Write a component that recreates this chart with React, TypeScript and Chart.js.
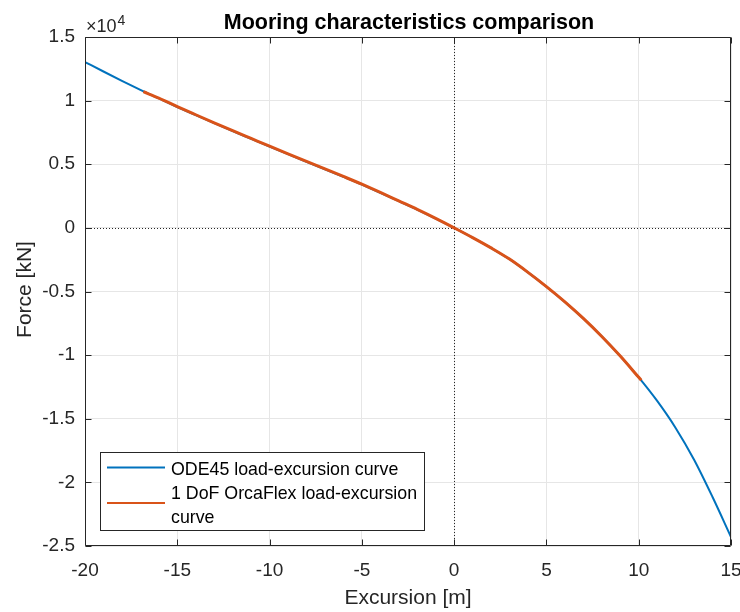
import React, { useEffect, useRef } from "react";
import { Chart, registerables } from "chart.js";

Chart.register(...registerables);

// ODE45 load-excursion curve (excursion m, force kN)
const odeX = [-20, -19, -18, -17, -16, -15, -14, -13, -12, -11, -10, -9, -8, -7, -6, -5, -4, -3, -2, -1, 0, 1, 2, 3, 4, 5, 6, 7, 8, 9, 10, 11, 12, 13, 14, 15];
const odeY = [13030, 12290, 11560, 10850, 10170, 9500, 8860, 8230, 7610, 7000, 6390, 5790, 5200, 4610, 4010, 3400, 2760, 2100, 1430, 730, 0, -770, -1580, -2460, -3500, -4620, -5820, -7120, -8540, -10080, -11750, -13600, -15720, -18220, -21150, -24290];

// 1 DoF OrcaFlex load-excursion curve
const orcaX = [-16.84, -16, -15, -14, -13, -12, -11, -10, -9, -8, -7, -6, -5, -4, -3, -2, -1, 0, 1, 2, 3, 4, 5, 6, 7, 8, 9, 10, 10.14];
const orcaY = [10700, 10200, 9530, 8890, 8260, 7640, 7030, 6420, 5820, 5230, 4640, 4040, 3430, 2790, 2120, 1450, 745, 0, -765, -1575, -2455, -3495, -4615, -5815, -7115, -8535, -10075, -11745, -11980];

const xTicks = [-20, -15, -10, -5, 0, 5, 10, 15];
const yTicks = [-25000, -20000, -15000, -10000, -5000, 0, 5000, 10000, 15000];

const seriesNames = ["ODE45 load-excursion curve", "1 DoF OrcaFlex load-excursion", "curve"];
const titleText = "Mooring characteristics comparison";
const xLabel = "Excursion [m]";
const yLabel = "Force [kN]";

const BLUE = "#0072BD";
const ORANGE = "#D95319";
const AX = "#262626";
const FONT = "'Liberation Sans', Arial, Helvetica, sans-serif";

export default function App() {
  const ref = useRef<HTMLCanvasElement | null>(null);

  useEffect(() => {
    document.body.style.margin = "0";
    const canvas = ref.current;
    if (!canvas) return;

    const decor = {
      id: "decor",
      beforeDatasetsDraw(chart: any) {
        const { ctx, chartArea: a, scales } = chart;
        const x0 = Math.round(scales.x.getPixelForValue(0)) + 0.5;
        const y0 = Math.round(scales.y.getPixelForValue(0)) + 0.5;
        ctx.save();
        ctx.strokeStyle = AX;
        ctx.lineWidth = 1;
        ctx.setLineDash([1, 2]);
        ctx.beginPath();
        ctx.moveTo(x0, a.top);
        ctx.lineTo(x0, a.bottom);
        ctx.moveTo(a.left, y0);
        ctx.lineTo(a.right, y0);
        ctx.stroke();
        ctx.restore();
      },
      afterDraw(chart: any) {
        const { ctx, chartArea: a, scales } = chart;
        ctx.save();
        // frame
        ctx.strokeStyle = AX;
        ctx.lineWidth = 1;
        ctx.setLineDash([]);
        const L = Math.round(a.left) + 0.5;
        const R = Math.round(a.right) - 0.5;
        const T = Math.round(a.top) + 0.5;
        const B = Math.round(a.bottom) - 0.5;
        ctx.beginPath();
        ctx.rect(L, T, R - L, B - T);
        ctx.stroke();
        // inward ticks
        const tl = 6;
        ctx.beginPath();
        for (const v of xTicks) {
          const px = Math.round(scales.x.getPixelForValue(v)) + 0.5;
          ctx.moveTo(px, B);
          ctx.lineTo(px, B - tl);
          ctx.moveTo(px, T);
          ctx.lineTo(px, T + tl);
        }
        for (const v of yTicks) {
          const py = Math.round(scales.y.getPixelForValue(v)) + 0.5;
          ctx.moveTo(L, py);
          ctx.lineTo(L + tl, py);
          ctx.moveTo(R, py);
          ctx.lineTo(R - tl, py);
        }
        ctx.stroke();

        // title
        ctx.fillStyle = "#000000";
        ctx.font = `bold 21.5px ${FONT}`;
        ctx.textAlign = "center";
        ctx.textBaseline = "alphabetic";
        ctx.fillText(titleText, (a.left + a.right) / 2 + 1, 29);

        // exponent
        ctx.fillStyle = AX;
        ctx.textAlign = "left";
        ctx.font = `18px ${FONT}`;
        ctx.fillText("\u00d710", 86, 32);
        const w = ctx.measureText("\u00d710").width;
        ctx.font = `14px ${FONT}`;
        ctx.fillText("4", 86 + w + 1, 25);

        // axis labels
        ctx.font = `21px ${FONT}`;
        ctx.textAlign = "center";
        ctx.fillText(xLabel, (a.left + a.right) / 2, 604);
        ctx.save();
        ctx.translate(31, (a.top + a.bottom) / 2 - 2);
        ctx.rotate(-Math.PI / 2);
        ctx.fillText(yLabel, 0, 0);
        ctx.restore();

        // legend
        const legFont = `17.8px ${FONT}`;
        ctx.font = legFont;
        const tw = Math.max(...seriesNames.map((s) => ctx.measureText(s).width));
        const bx = 100.5, by = 452.5, bh = 78;
        const bw = Math.round(171 + tw + 7 - bx);
        ctx.fillStyle = "#ffffff";
        ctx.fillRect(bx, by, bw, bh);
        ctx.strokeStyle = AX;
        ctx.lineWidth = 1;
        ctx.strokeRect(bx, by, bw, bh);
        ctx.lineWidth = 2;
        ctx.strokeStyle = BLUE;
        ctx.beginPath();
        ctx.moveTo(107, 467.5);
        ctx.lineTo(165, 467.5);
        ctx.stroke();
        ctx.strokeStyle = ORANGE;
        ctx.beginPath();
        ctx.moveTo(107, 503);
        ctx.lineTo(165, 503);
        ctx.stroke();
        ctx.fillStyle = "#000000";
        ctx.textAlign = "left";
        ctx.fillText(seriesNames[0], 171, 475);
        ctx.fillText(seriesNames[1], 171, 499.3);
        ctx.fillText(seriesNames[2], 171, 523);
        ctx.restore();
      },
    };

    const chart = new Chart(canvas, {
      type: "scatter",
      data: {
        datasets: [
          {
            label: seriesNames[0],
            data: odeX.map((x, i) => ({ x, y: odeY[i] })),
            showLine: true,
            borderColor: BLUE,
            backgroundColor: BLUE,
            borderWidth: 2,
            pointRadius: 0,
            cubicInterpolationMode: "monotone",
            order: 1,
          },
          {
            label: seriesNames[1] + " " + seriesNames[2],
            data: orcaX.map((x, i) => ({ x, y: orcaY[i] })),
            showLine: true,
            borderColor: ORANGE,
            backgroundColor: ORANGE,
            borderWidth: 3,
            pointRadius: 0,
            cubicInterpolationMode: "monotone",
            order: 0,
          },
        ],
      },
      options: {
        responsive: false,
        animation: false,
        layout: { padding: { left: 0, right: 9, top: 37, bottom: 0 } },
        plugins: {
          legend: { display: false },
          title: { display: false },
          tooltip: { enabled: false },
        },
        scales: {
          x: {
            type: "linear",
            min: -20,
            max: 15,
            afterBuildTicks: (s: any) => {
              s.ticks = xTicks.map((v) => ({ value: v }));
            },
            afterFit: (s: any) => {
              s.height = 66;
              s.paddingLeft = 0;
              s.paddingRight = 0;
            },
            ticks: {
              font: { family: FONT, size: 19 },
              color: AX,
              padding: 13,
              maxRotation: 0,
              autoSkip: false,
            },
            grid: { color: "#e6e6e6", drawTicks: false, lineWidth: 1 },
            border: { display: false },
          },
          y: {
            type: "linear",
            min: -25000,
            max: 15000,
            afterBuildTicks: (s: any) => {
              s.ticks = yTicks.map((v) => ({ value: v }));
            },
            afterFit: (s: any) => {
              s.width = 85;
              s.paddingTop = 0;
              s.paddingBottom = 0;
            },
            ticks: {
              font: { family: FONT, size: 19 },
              color: AX,
              padding: 10,
              autoSkip: false,
              callback: (v: any) => String(Math.round((Number(v) / 1e4) * 10) / 10),
            },
            grid: { color: "#e6e6e6", drawTicks: false, lineWidth: 1 },
            border: { display: false },
          },
        },
      },
      plugins: [decor],
    });

    return () => chart.destroy();
  }, []);

  return (
    <div style={{ width: 740, height: 612, background: "#ffffff" }}>
      <canvas ref={ref} width={740} height={612} style={{ display: "block" }} />
    </div>
  );
}
